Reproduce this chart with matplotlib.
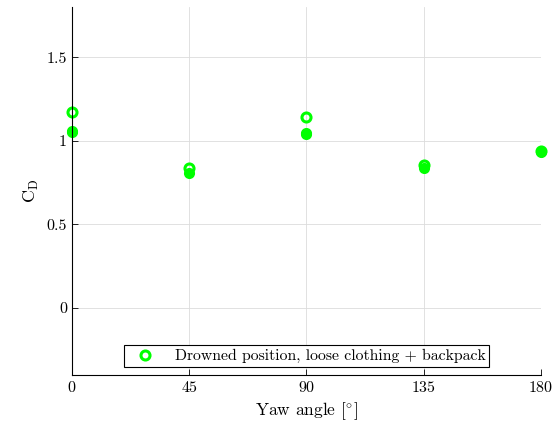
import matplotlib.pyplot as plt
import numpy as np

plt.rcParams['font.family'] = 'serif'
plt.rcParams['font.serif'] = ['cmr10', 'DejaVu Serif']
plt.rcParams['mathtext.fontset'] = 'cm'
plt.rcParams['axes.formatter.use_mathtext'] = True

# open markers (legend series)
yaw_open = [0, 45, 90, 135, 180]
cd_open = [1.17, 0.84, 1.14, 0.855, 0.94]
# filled markers (repeat runs)
yaw_fill = [0, 0, 45, 90, 90, 135, 180]
cd_fill = [1.06, 1.05, 0.81, 1.045, 1.04, 0.84, 0.93]

green = '#00ff00'

fig = plt.figure(figsize=(5.57, 4.36), dpi=100)
ax = fig.add_axes([0.129, 0.140, 0.842, 0.844])

ax.plot(yaw_fill, cd_fill, 'o', color=green, markersize=8, markeredgewidth=0,
        linestyle='none', clip_on=False)
ax.plot(yaw_open, cd_open, 'o', markerfacecolor='none', markeredgecolor=green,
        markersize=6.5, markeredgewidth=2.2, linestyle='none', clip_on=False,
        label='Drowned position, loose clothing + backpack')

ax.set_xlim(0, 180)
ax.set_ylim(-0.4, 1.8)
ax.set_xticks([0, 45, 90, 135, 180])
ax.set_yticks([0, 0.5, 1, 1.5])
ax.set_yticklabels(['0', '0.5', '1', '1.5'])
ax.grid(True, color='#dcdcdc', linewidth=0.6)
ax.set_axisbelow(True)
ax.tick_params(direction='in', length=4, labelsize=11.5, width=0.6)
for s in ['top', 'right']:
    ax.spines[s].set_visible(False)
for s in ['left', 'bottom']:
    ax.spines[s].set_linewidth(0.8)

ax.set_xlabel('Yaw angle [$^{\\circ}$]', fontsize=12.5)
ax.set_ylabel('C$_\\mathrm{D}$', fontsize=13)

leg = ax.legend(loc='lower center', bbox_to_anchor=(0.5, 0.0), fontsize=11.3,
                fancybox=False, framealpha=1, edgecolor='black',
                borderpad=0.25, handlelength=2.2, handletextpad=0.8)
leg.get_frame().set_linewidth(0.8)

fig.savefig('out.png', dpi=100)
